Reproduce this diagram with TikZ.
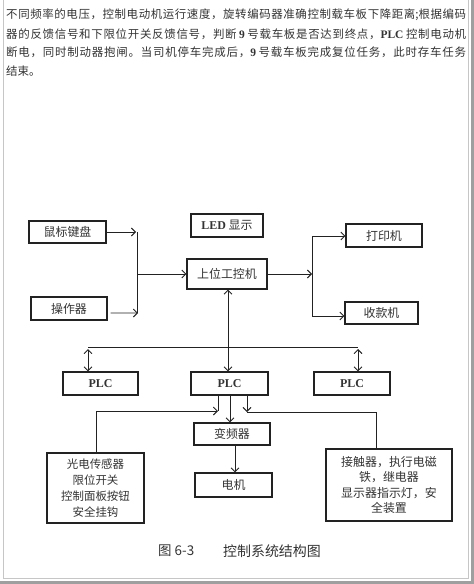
\documentclass[tikz,border=0pt]{standalone}
\usepackage{fontspec}
\setmainfont{Liberation Serif}
\newfontfamily\cjk{Noto Sans CJK SC}
\usetikzlibrary{arrows.meta,calc}
\definecolor{ink}{HTML}{222222}
\definecolor{txt}{HTML}{333333}
\newcommand{\lat}[1]{{\rmfamily\bfseries #1}}
\newcount\mycnt
\mycnt="4E00
\loop \XeTeXcharclass\mycnt=10 \advance\mycnt by 1 \ifnum\mycnt<"A000 \repeat
\mycnt="3000
\loop \XeTeXcharclass\mycnt=10 \advance\mycnt by 1 \ifnum\mycnt<"3040 \repeat
\mycnt="FF00
\loop \XeTeXcharclass\mycnt=10 \advance\mycnt by 1 \ifnum\mycnt<"FF60 \repeat
\XeTeXinterchartoks 10 10 = {\hskip 0pt plus 1fil\relax}
\newcommand{\fullline}[1]{\hbox to 460bp{\XeTeXinterchartokenstate=1 #1}}
\tikzset{
  box/.style={draw=ink, line width=1.1bp, inner sep=1bp, text=txt,
    font=\cjk\fontsize{12}{14}\selectfont},
  plcbox/.style={box, font=\rmfamily\bfseries\fontsize{12}{14}\selectfont},
  para/.style={anchor=west, inner sep=0pt, text=txt,
    font=\cjk\fontsize{11.5}{14}\selectfont},
  wire/.style={draw=ink, line width=0.9bp},
  arr/.style={wire, -{Straight Barb[length=4bp,width=8bp]}},
  darr/.style={wire, {Straight Barb[length=4bp,width=8bp]}-{Straight Barb[length=4bp,width=8bp]}},
}
\begin{document}
\begin{tikzpicture}[x=1bp,y=-1bp]
\useasboundingbox (0,0) rectangle (474,584);
% page frame
\draw[gray!45, line width=0.8bp] (3,-2) -- (3,578) -- (468,578) -- (468,-2);
\fill[gray!75] (0,581) rectangle (474,584);
\fill[gray!75] (471,0) rectangle (474,584);
% text above the figure
\node[para] (t1) at (6,15) {\fullline{不同频率的电压，控制电动机运行速度，旋转编码器准确控制载车板下降距离;根据编码}};
\node[para] (t2) at (6,34) {\fullline{器的反馈信号和下限位开关反馈信号，判断 \lat{9} 号载车板是否达到终点，\lat{PLC} 控制电动机}};
\node[para] (t3) at (6,52.5) {\fullline{断电，同时制动器抱闸。当司机停车完成后，\lat{9} 号载车板完成复位任务，此时存车任务}};
\node[para] (t4) at (6,71) {结束。};
% boxes
\node[box, minimum width=77bp, minimum height=22bp] (kb) at (67.5,232) {鼠标键盘};
\node[box, minimum width=72bp, minimum height=23bp] (led) at (227,225.5) {\lat{LED} 显示};
\node[box, minimum width=76bp, minimum height=23bp] (prn) at (384,235.5) {打印机};
\node[box, minimum width=80bp, minimum height=30bp] (ipc) at (227,274) {上位工控机};
\node[box, minimum width=76bp, minimum height=23bp] (op) at (69,308.5) {操作器};
\node[box, minimum width=73bp, minimum height=22bp] (cash) at (381.5,313) {收款机};
\node[plcbox, minimum width=75bp, minimum height=23bp] (plc1) at (100.5,383.5) {PLC};
\node[plcbox, minimum width=77bp, minimum height=23bp] (plc2) at (229.5,383.5) {PLC};
\node[plcbox, minimum width=76bp, minimum height=23bp] (plc3) at (352,383.5) {PLC};
\node[box, minimum width=76bp, minimum height=22bp] (vfd) at (232,434) {变频器};
\node[box, minimum width=77bp, minimum height=24bp] (motor) at (233.5,485) {电机};
\node[box, minimum width=97bp, minimum height=70bp, align=center,
  font=\cjk\fontsize{11.5}{16}\selectfont] (sens) at (95.5,488)
  {光电传感器\\限位开关\\控制面板按钮\\安全挂钩};
\node[box, minimum width=126bp, minimum height=72bp, align=center,
  font=\cjk\fontsize{12}{15.5}\selectfont] (act) at (389,485)
  {接触器，执行电磁\\铁，继电器\\显示器指示灯，安\\全装置};
% caption
\node[anchor=west, inner sep=0, text=txt, font=\cjk\fontsize{13.5}{16}\selectfont] (cap1) at (158,551) {图 6-3};
\node[anchor=west, inner sep=0, text=txt, font=\cjk\fontsize{14}{16}\selectfont] (cap2) at (223,551) {控制系统结构图};
% junctions
\coordinate (jl) at (137,232);
\coordinate (jlb) at (137,313);
\coordinate (jr) at (312,236);
\coordinate (jrb) at (312,316);
\coordinate (b1) at (88,347);
\coordinate (b3) at (358,347);
\coordinate (cl) at (218,411);
\coordinate (cr) at (247,412);
% input side
\draw[arr] (kb.east) -- ($(jl)+(-1,0)$);
\draw[wire] (jl) -- (jlb);
\draw[arr] ([yshift=-4.5bp,xshift=3bp]op.east) -- ($(jlb)+(1,0)$);
\draw[arr] (jl |- ipc.west) -- (ipc.west);
% output side
\draw[arr] (ipc.east) -- (jr |- ipc.east);
\draw[wire] (jr) -- (jrb);
\draw[arr] (jr) -- (jr -| prn.west);
\draw[arr] (jrb) -- (jrb -| cash.west);
% to PLCs
\draw[darr] (ipc.south -| 228,0) -- (plc2.north -| 228,0);
\draw[wire] (b1) -- (b3);
\draw[darr] ($(b1)+(0,2)$) -- (b1 |- plc1.north);
\draw[darr] ($(b3)+(0,2)$) -- (b3 |- plc3.north);
% below the middle PLC
\draw[wire] (plc2.south -| cl) -- (cl);
\draw[arr] (sens.north -| 96,0) -- (96,411) -- (cl);
\draw[arr] (plc2.south -| 230,0) -- (vfd.north -| 230,0);
\draw[arr] (plc2.south -| cr) -- (cr);
\draw[wire] (cr) -- (376,412) -- (act.north -| 376,0);
\draw[arr] (vfd.south -| 235,0) -- (motor.north -| 235,0);
\end{tikzpicture}
\end{document}
